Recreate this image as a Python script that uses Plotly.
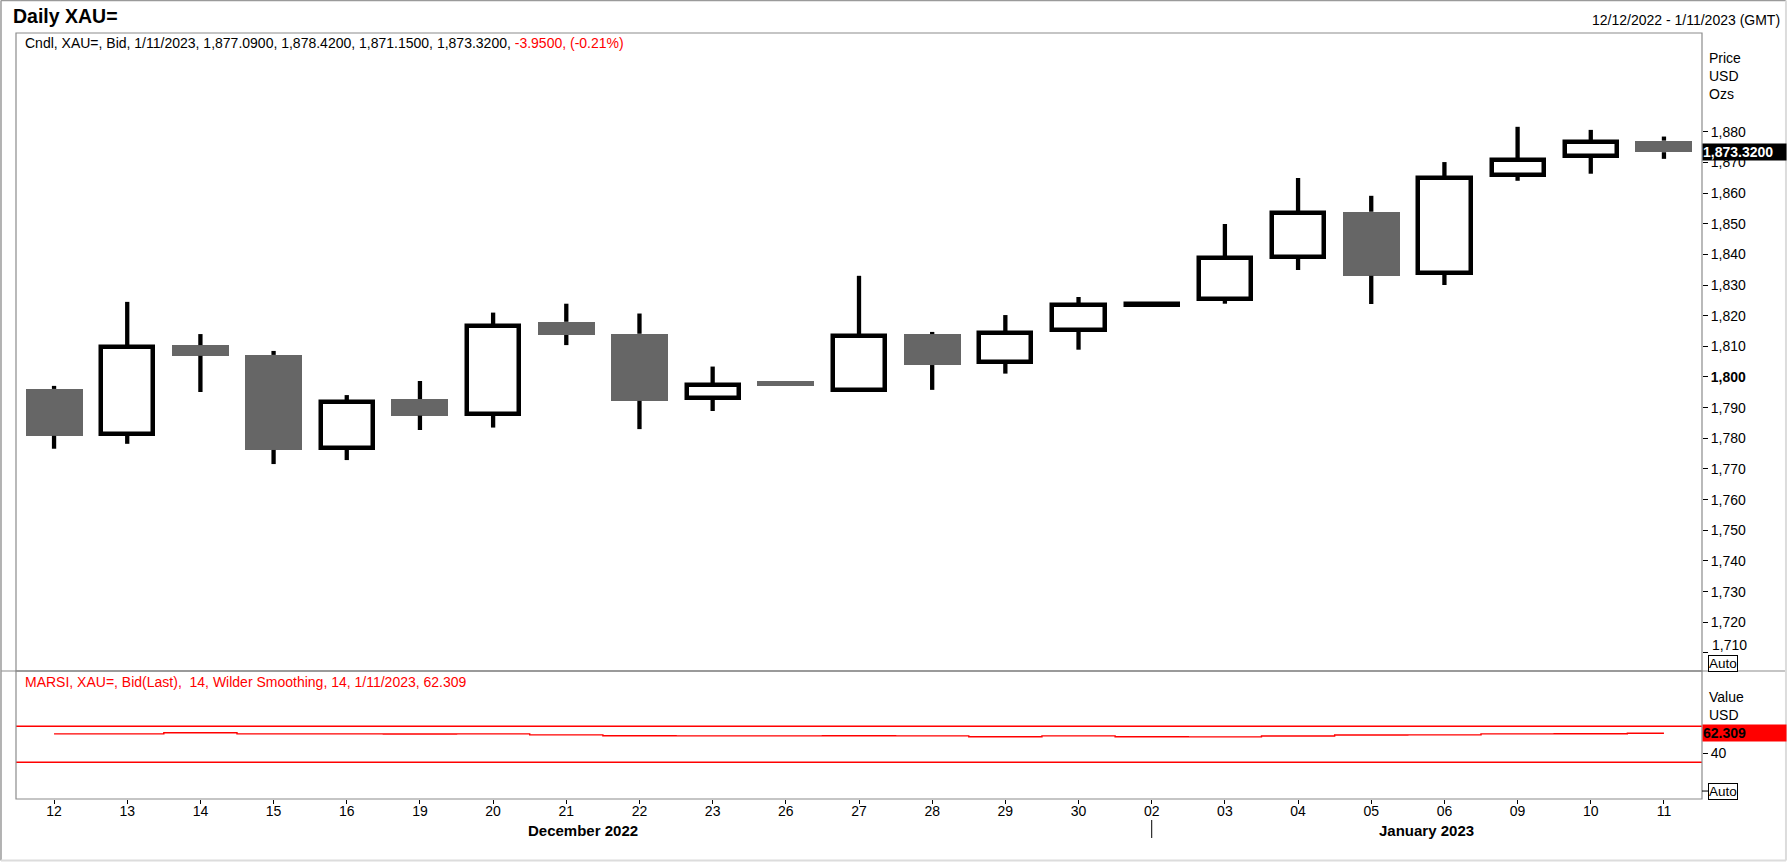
import plotly.graph_objects as go

# daily XAU= bid candles, 12 Dec 2022 - 11 Jan 2023
day_labels = ["12", "13", "14", "15", "16", "19", "20", "21", "22", "23", "26", "27",
              "28", "29", "30", "02", "03", "04", "05", "06", "09", "10", "11"]
opens = [1796.1, 1781.4, 1810.4, 1807.2, 1777.0, 1792.8, 1787.8, 1818.0, 1814.1, 1793.1, 1798.7, 1795.7,
         1814.0, 1804.8, 1815.3, 1823.6, 1825.4, 1839.1, 1853.9, 1833.8, 1865.9, 1872.1, 1877.09]
highs = [1797.1, 1824.5, 1814.0, 1808.5, 1794.1, 1798.7, 1821.0, 1823.9, 1820.7, 1803.4, 1798.7, 1833.0,
         1814.7, 1820.2, 1826.1, 1823.8, 1849.9, 1864.9, 1859.1, 1870.1, 1881.6, 1880.6, 1878.42]
lows = [1776.6, 1778.2, 1795.1, 1771.6, 1772.9, 1782.7, 1783.5, 1810.4, 1783.0, 1788.9, 1797.1, 1795.5,
        1795.8, 1801.1, 1808.9, 1823.6, 1823.9, 1834.9, 1823.8, 1830.0, 1864.0, 1866.3, 1871.15]
closes = [1780.8, 1809.8, 1806.9, 1776.2, 1791.7, 1787.4, 1816.5, 1813.7, 1792.2, 1797.4, 1797.1, 1813.3,
          1803.9, 1814.3, 1823.6, 1823.8, 1838.7, 1853.5, 1833.0, 1864.8, 1870.7, 1876.6, 1873.32]
rsi = [61.6, 61.5, 62.8, 61.6, 61.5, 61.4, 61.5, 60.4, 59.4, 59.3, 59.3, 59.4,
       59.3, 58.3, 59.3, 58.3, 58.2, 59.2, 60.3, 60.4, 61.6, 61.7, 62.309]
rsi_levels = [70, 30]
month_labels = ["December 2022", "January 2023"]
month_pos = [7.23, 18.75]
price_ticks = list(range(1710, 1890, 10))

FONT = "Liberation Sans, Arial, sans-serif"
GREY = "#666666"
FRAME = "#8c8c8c"

xs = list(range(len(day_labels)))
up = [c > o for o, c in zip(opens, closes)]

# wicks drawn outside the body only
wx, wy = [], []
for i in xs:
    top = max(opens[i], closes[i])
    bot = min(opens[i], closes[i])
    if highs[i] > top:
        wx += [i, i, None]
        wy += [top, highs[i], None]
    if lows[i] < bot:
        wx += [i, i, None]
        wy += [bot, lows[i], None]

fig = go.Figure()
fig.add_trace(go.Bar(
    x=xs,
    base=[min(o, c) for o, c in zip(opens, closes)],
    y=[abs(c - o) for o, c in zip(opens, closes)],
    width=[0.713 if u else 0.779 for u in up],
    marker=dict(color=["white" if u else GREY for u in up],
                line=dict(color="black", width=[4.5 if u else 0 for u in up])),
    yaxis="y", hoverinfo="skip"))
fig.add_trace(go.Scatter(x=wx, y=wy, mode="lines", line=dict(color="black", width=4.3),
                         yaxis="y", hoverinfo="skip"))
fig.add_trace(go.Scatter(x=xs, y=rsi, mode="lines", line=dict(color="red", width=1.4, shape="hvh"),
                         yaxis="y2", hoverinfo="skip"))

shapes = []
for lv in rsi_levels:
    shapes.append(dict(type="line", xref="paper", x0=0, x1=1, yref="y2", y0=lv, y1=lv,
                       line=dict(color="red", width=1.3)))
split = 0.1671
shapes += [
    dict(type="rect", xref="paper", yref="paper", x0=0, x1=1, y0=split, y1=1,
         line=dict(color=FRAME, width=1.2)),
    dict(type="rect", xref="paper", yref="paper", x0=0, x1=1, y0=0, y1=split,
         line=dict(color=FRAME, width=1.2)),
    dict(type="line", xref="paper", yref="paper", x0=-0.0089, x1=1.0498, y0=split, y1=split,
         line=dict(color=FRAME, width=1.2)),
    # outer frame
    dict(type="line", xref="paper", yref="paper", x0=-0.0089, x1=1.0498, y0=1.0424, y1=1.0424,
         line=dict(color="#9a9a9a", width=1.5)),
    dict(type="line", xref="paper", yref="paper", x0=-0.0089, x1=-0.0089, y0=-0.0803, y1=1.0424,
         line=dict(color="#9a9a9a", width=1.5)),
    dict(type="line", xref="paper", yref="paper", x0=-0.0089, x1=1.0498, y0=-0.0803, y1=-0.0803,
         line=dict(color="#dcdcdc", width=2)),
    dict(type="line", xref="paper", yref="paper", x0=1.0498, x1=1.0498, y0=-0.0803, y1=1.0424,
         line=dict(color="#dcdcdc", width=2)),
    # year separator under "02"
    dict(type="line", xref="x", yref="paper", x0=15, x1=15, y0=-0.0274, y1=-0.0509,
         line=dict(color="black", width=1)),
    # tick beside lower Auto
    dict(type="line", xref="paper", yref="paper", x0=1.0, x1=1.0036, y0=0.0104, y1=0.0104,
         line=dict(color="black", width=1)),
]

tick_font = dict(family=FONT, size=14, color="black")
txt = dict(family=FONT, size=14, color="black")
ann = [
    dict(text="<b>Daily XAU=</b>", x=-0.003, y=1.0222, xanchor="left",
         font=dict(family=FONT, size=19.5, color="black")),
    dict(text="12/12/2022 - 1/11/2023 (GMT)", x=1.0474, y=1.017, xanchor="right", font=txt),
    dict(text="Cndl, XAU=, Bid, 1/11/2023, 1,877.0900, 1,878.4200, 1,871.1500, 1,873.3200, "
              "<span style='color:red'>-3.9500, (-0.21%)</span>",
         x=0.0042, y=0.9869, xanchor="left", font=txt),
    dict(text="MARSI, XAU=, Bid(Last),  14, Wilder Smoothing, 14, 1/11/2023, 62.309",
         x=0.0042, y=0.1524, xanchor="left", font=dict(family=FONT, size=14, color="red")),
    dict(text="Price", x=1.003, y=0.9674, xanchor="left", font=txt),
    dict(text="USD", x=1.003, y=0.9439, xanchor="left", font=txt),
    dict(text="Ozs", x=1.003, y=0.9204, xanchor="left", font=txt),
    dict(text="Value", x=1.003, y=0.1332, xanchor="left", font=txt),
    dict(text="USD", x=1.003, y=0.1097, xanchor="left", font=txt),
    # lowest price label sits a little above its tick, over the Auto box
    dict(text="{:,}".format(price_ticks[0]), x=1.0047, y=0.2015, xanchor="left", font=tick_font),
    dict(text="Auto", x=1.0036, y=0.1766, xanchor="left", font=dict(family=FONT, size=13.5, color="black"),
         bordercolor="black", borderwidth=1, borderpad=0, bgcolor="white"),
    dict(text="Auto", x=1.0036, y=0.0104, xanchor="left", font=dict(family=FONT, size=13.5, color="black"),
         bordercolor="black", borderwidth=1, borderpad=0, bgcolor="white"),
]
for m, p in zip(month_labels, month_pos):
    ann.append(dict(text="<b>" + m + "</b>", xref="x", x=p, y=-0.0405,
                    font=dict(family=FONT, size=15, color="black")))
for a in ann:
    a.setdefault("xref", "paper")
    a.setdefault("yref", "paper")
    a["showarrow"] = False
    a.setdefault("yanchor", "middle")

# last value boxes on the right axes
ann.append(dict(text="<b>{:,.4f}</b>".format(closes[-1]), xref="paper", x=1.0, xanchor="left",
                yref="y", y=closes[-1], yanchor="middle", showarrow=False, align="left",
                width=83, bgcolor="black", borderpad=0,
                font=dict(family=FONT, size=14, color="white")))
ann.append(dict(text="<b>{:.3f}</b>".format(rsi[-1]), xref="paper", x=1.0, xanchor="left",
                yref="y2", y=rsi[-1], yanchor="middle", showarrow=False, align="left",
                width=83, bgcolor="red", borderpad=0,
                font=dict(family=FONT, size=14, color="black")))

price_text = []
for t in price_ticks:
    if t == 1800:
        price_text.append("<b>1,800</b>")
    elif t == price_ticks[0]:
        price_text.append("")
    else:
        price_text.append("{:,}".format(t))

fig.update_layout(
    width=1788, height=862,
    margin=dict(l=16, r=86, t=33, b=63),
    paper_bgcolor="white", plot_bgcolor="white",
    showlegend=False, bargap=0,
    font=dict(family=FONT, size=14, color="black"),
    xaxis=dict(anchor="y2", range=[-0.52, 22.52], tickmode="array", tickvals=xs, ticktext=day_labels,
               ticks="outside", ticklen=4, tickcolor="black", showgrid=False, zeroline=False,
               showline=False, tickfont=tick_font, ticklabelstandoff=-5),
    yaxis=dict(domain=[split, 1], side="right", range=[1704.1, 1912.2], tickmode="array",
               tickvals=price_ticks, ticktext=price_text,
               ticks="outside", ticklen=5, tickcolor="black", showgrid=False, zeroline=False,
               showline=False, tickfont=tick_font),
    yaxis2=dict(domain=[0, split], side="right", range=[-10.8, 131.4], tickmode="array",
                tickvals=[40], ticktext=["40"], ticks="outside", ticklen=5, tickcolor="black",
                showgrid=False, zeroline=False, showline=False, tickfont=tick_font),
    shapes=shapes,
    annotations=ann,
)

# page has a default body margin; drop it so the chart sits at the window corner
fig.write_html("out.html", config={"displayModeBar": False},
               post_script="document.body.style.margin='0px';")
